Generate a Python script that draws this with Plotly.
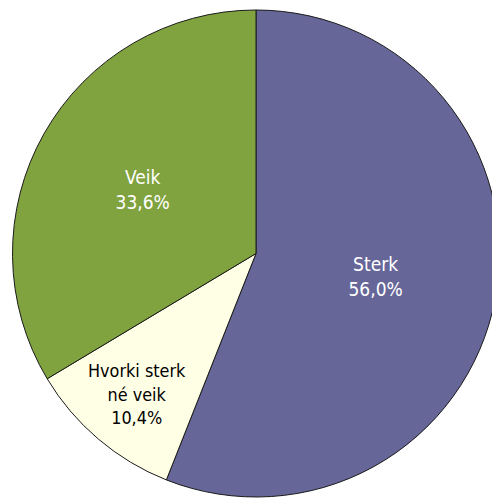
import plotly.graph_objects as go

labels = ["Sterk", "Hvorki sterk<br>né veik", "Veik"]
values = [56.0, 10.4, 33.6]
colors = ["#666699", "#FFFFE6", "#80A33F"]
text_colors = ["#FFFFFF", "#000000", "#FFFFFF"]

W, H = 512, 499
cx, cy, r = 256, 253.5, 243.5

fig = go.Figure(go.Pie(
    labels=labels,
    values=values,
    sort=False,
    direction="clockwise",
    rotation=0,
    marker=dict(colors=colors, line=dict(color="#1a1a1a", width=1)),
    texttemplate="%{label}<br>%{percent:.1%}",
    textposition="inside",
    insidetextorientation="horizontal",
    textfont=dict(family="DejaVu Sans Condensed, Liberation Sans Narrow, sans-serif", size=19, color=text_colors),
    hoverinfo="skip",
    showlegend=False,
    domain=dict(x=[(cx - r) / W, (cx + r) / W], y=[(H - cy - r) / H, (H - cy + r) / H]),
))

fig.update_layout(
    width=W, height=H,
    margin=dict(l=0, r=0, t=0, b=0),
    paper_bgcolor="white",
    separators=",.",
)

fig.write_html("out.html", config={"displayModeBar": False},
               post_script="document.body.style.margin='0';document.body.style.overflow='hidden';")
